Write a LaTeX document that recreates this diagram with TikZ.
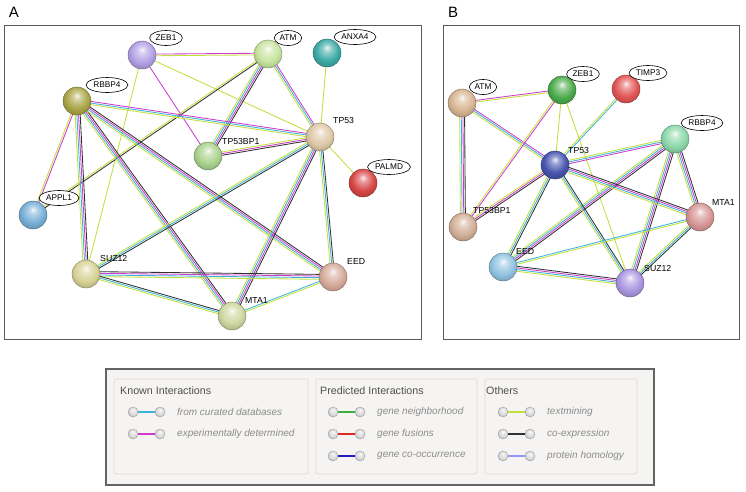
\documentclass[tikz,border=0pt]{standalone}
\usepackage{fontspec}
\setmainfont{Liberation Sans}
\usetikzlibrary{calc,shapes.geometric}
\pgfdeclarelayer{bg}
\pgfsetlayers{bg,main}
\makeatletter
\pgfdeclareradialshading[tikz@ball]{strball}{\pgfqpoint{0bp}{10bp}}{%
 color(0bp)=(tikz@ball!10!white);
 color(7bp)=(tikz@ball!55!white);
 color(20bp)=(tikz@ball);
 color(33bp)=(tikz@ball!78!black);
 color(50bp)=(tikz@ball!55!black)}
\makeatother
% edge colours
\definecolor{colTM}{RGB}{196,222,60}
\definecolor{colDB}{RGB}{60,180,215}
\definecolor{colEX}{RGB}{205,60,205}
\definecolor{colCE}{RGB}{50,50,50}
\definecolor{colNB}{RGB}{60,175,60}
\definecolor{colFU}{RGB}{225,40,40}
\definecolor{colCO}{RGB}{30,30,200}
\definecolor{colHO}{RGB}{150,150,250}
% sphere colours panel A
\definecolor{aZEB1c}{RGB}{178,160,228}
\definecolor{aATMc}{RGB}{200,228,160}
\definecolor{aANXA4c}{RGB}{60,170,165}
\definecolor{aRBBP4c}{RGB}{170,165,70}
\definecolor{aTP53c}{RGB}{222,200,168}
\definecolor{aTP53BP1c}{RGB}{170,210,140}
\definecolor{aPALMDc}{RGB}{215,70,70}
\definecolor{aAPPL1c}{RGB}{120,175,215}
\definecolor{aSUZ12c}{RGB}{215,210,150}
\definecolor{aEEDc}{RGB}{215,170,155}
\definecolor{aMTA1c}{RGB}{205,215,160}
% sphere colours panel B
\definecolor{bATMc}{RGB}{215,180,145}
\definecolor{bZEB1c}{RGB}{75,170,75}
\definecolor{bTIMP3c}{RGB}{225,85,85}
\definecolor{bRBBP4c}{RGB}{140,215,170}
\definecolor{bTP53c}{RGB}{70,85,175}
\definecolor{bTP53BP1c}{RGB}{210,175,150}
\definecolor{bMTA1c}{RGB}{215,150,150}
\definecolor{bEEDc}{RGB}{145,195,225}
\definecolor{bSUZ12c}{RGB}{170,150,225}
% legend colours
\definecolor{legbg}{RGB}{245,244,242}
\definecolor{legfr}{RGB}{100,100,100}
\definecolor{legbd}{RGB}{218,217,214}
\definecolor{legtit}{RGB}{80,80,80}
\definecolor{legtxt}{RGB}{140,140,140}
\definecolor{framec}{RGB}{90,90,90}

\newcommand\stredge[3]{%
  \gdef\nlines{0}%
  \foreach \ecol in {#3}{\pgfmathtruncatemacro\tmpn{\nlines+1}\global\let\nlines\tmpn}%
  \foreach \ecol [count=\i] in {#3}{%
    \pgfmathsetmacro\off{(\i-(\nlines+1)/2)*1.65}%
    \draw[edgeline,color=\ecol] ($(#1)!\off pt!90:(#2)$) -- ($(#2)!\off pt!-90:(#1)$);
  }%
}
\newcommand\legrow[6]{%
  \node[mini] (#1l) at (#2,#3) {};
  \node[mini] (#1r) at ({#2+27},#3) {};
  \draw[line width=2pt, color=#4] (#1l) -- (#1r);
  \node[legtext] (#1t) at (#6,#3) {#5};
}

\tikzset{
 sph/.style={circle, minimum size=28pt, inner sep=0pt, ball color=#1, shading=strball, draw=#1!60!black, line width=0.4pt},
 tag/.style={ellipse, draw=black, line width=0.6pt, fill=white, inner xsep=1.2pt, inner ysep=0.3pt, minimum height=15pt, font=\fontsize{8.3}{9}\selectfont},
 lbl/.style={anchor=west, inner sep=0pt, font=\fontsize{8.7}{10}\selectfont},
 edgeline/.style={line width=0.85pt},
 framebox/.style={draw=framec, line width=1pt},
 mini/.style={circle, minimum size=10pt, inner sep=0pt, ball color=gray!30, shading=strball, draw=gray!75, line width=0.4pt},
 legtext/.style={anchor=west, inner sep=0pt, font=\fontsize{10}{12}\selectfont\itshape, text=legtxt},
 legtitle/.style={anchor=west, inner sep=0pt, font=\fontsize{10.7}{12}\selectfont, text=legtit},
 legbox/.style={rounded corners=2pt, fill=legbg, draw=legbd, line width=0.6pt},
}

\begin{document}
\begin{tikzpicture}[x=1pt,y=-1pt]
\useasboundingbox (0,0) rectangle (746,491);

% panel letters and frames
\node[font=\fontsize{15}{17}\selectfont] (letA) at (14,12) {A};
\node[font=\fontsize{15}{17}\selectfont] (letB) at (453,12) {B};
\draw[framebox] (4,25) rectangle (421,339);
\draw[framebox] (443,25) rectangle (739,339);

% ---------------- Panel A nodes ----------------
\node[sph=aZEB1c]    (aZEB1)    at (142,55)  {};
\node[sph=aATMc]     (aATM)     at (268,54)  {};
\node[sph=aANXA4c]   (aANXA4)   at (327,53)  {};
\node[sph=aRBBP4c]   (aRBBP4)   at (77,101)  {};
\node[sph=aTP53c]    (aTP53)    at (320,137) {};
\node[sph=aTP53BP1c] (aTP53BP1) at (208,156) {};
\node[sph=aPALMDc]   (aPALMD)   at (363,183) {};
\node[sph=aAPPL1c]   (aAPPL1)   at (33,215)  {};
\node[sph=aSUZ12c]   (aSUZ12)   at (86,274)  {};
\node[sph=aEEDc]     (aEED)     at (333,277) {};
\node[sph=aMTA1c]    (aMTA1)    at (232,316) {};

\node[tag] (aZEB1t)  at (166,38)  {ZEB1};
\node[tag] (aATMt)   at (288,38)  {ATM};
\node[tag] (aANXA4t) at (355,37)  {ANXA4};
\node[tag] (aRBBP4t) at (107,85)  {RBBP4};
\node[tag] (aPALMDt) at (389,167) {PALMD};
\node[tag] (aAPPL1t) at (59,198)  {APPL1};
\node[lbl] (aTP53t)    at (333,120) {TP53};
\node[lbl] (aTP53BP1t) at (222,141) {TP53BP1};
\node[lbl] (aSUZ12t)   at (100,258) {SUZ12};
\node[lbl] (aEEDt)     at (347,261) {EED};
\node[lbl] (aMTA1t)    at (245,300) {MTA1};

% ---------------- Panel B nodes ----------------
\node[sph=bATMc]     (bATM)     at (462,103) {};
\node[sph=bZEB1c]    (bZEB1)    at (562,90)  {};
\node[sph=bTIMP3c]   (bTIMP3)   at (626,89)  {};
\node[sph=bRBBP4c]   (bRBBP4)   at (675,139) {};
\node[sph=bTP53c]    (bTP53)    at (555,165) {};
\node[sph=bTP53BP1c] (bTP53BP1) at (463,227) {};
\node[sph=bMTA1c]    (bMTA1)    at (700,217) {};
\node[sph=bEEDc]     (bEED)     at (503,267) {};
\node[sph=bSUZ12c]   (bSUZ12)   at (630,283) {};

\node[tag] (bATMt)   at (483,87)  {ATM};
\node[tag] (bZEB1t)  at (583,74)  {ZEB1};
\node[tag] (bTIMP3t) at (648,73)  {TIMP3};
\node[tag] (bRBBP4t) at (702,123) {RBBP4};
\node[lbl] (bTP53t)    at (568,150) {TP53};
\node[lbl] (bTP53BP1t) at (473,210) {TP53BP1};
\node[lbl] (bMTA1t)    at (712,202) {MTA1};
\node[lbl] (bEEDt)     at (516,251) {EED};
\node[lbl] (bSUZ12t)   at (644,268) {SUZ12};

% ---------------- edges (behind spheres) ----------------
\begin{pgfonlayer}{bg}
% panel A
\stredge{aZEB1}{aATM}{colTM,colEX}
\stredge{aZEB1}{aTP53}{colTM}
\stredge{aZEB1}{aTP53BP1}{colEX}
\stredge{aZEB1}{aSUZ12}{colTM}
\stredge{aATM}{aTP53}{colTM,colDB,colEX}
\stredge{aATM}{aTP53BP1}{colTM,colDB,colEX,colCE}
\stredge{aATM}{aAPPL1}{colTM,colCE}
\stredge{aRBBP4}{aTP53}{colTM,colDB,colEX}
\stredge{aRBBP4}{aAPPL1}{colTM,colEX}
\stredge{aRBBP4}{aSUZ12}{colTM,colDB,colEX,colCE}
\stredge{aRBBP4}{aMTA1}{colTM,colDB,colEX,colCE}
\stredge{aRBBP4}{aEED}{colTM,colDB,colEX,colCE}
\stredge{aTP53}{aTP53BP1}{colTM,colEX,colCE}
\stredge{aTP53}{aANXA4}{colTM}
\stredge{aTP53}{aPALMD}{colTM}
\stredge{aTP53}{aSUZ12}{colTM,colDB,colCE}
\stredge{aTP53}{aMTA1}{colTM,colDB,colEX,colCE}
\stredge{aTP53}{aEED}{colTM,colDB,colCE}
\stredge{aSUZ12}{aEED}{colTM,colDB,colEX,colCE}
\stredge{aSUZ12}{aMTA1}{colTM,colDB,colCE}
\stredge{aMTA1}{aEED}{colTM,colDB}
% panel B
\stredge{bATM}{bZEB1}{colTM,colEX}
\stredge{bATM}{bTP53}{colTM,colDB,colEX}
\stredge{bATM}{bTP53BP1}{colTM,colDB,colEX,colCE}
\stredge{bZEB1}{bTP53}{colTM}
\stredge{bZEB1}{bTP53BP1}{colTM,colEX}
\stredge{bZEB1}{bSUZ12}{colTM}
\stredge{bTIMP3}{bTP53}{colTM,colDB}
\stredge{bRBBP4}{bTP53}{colTM,colDB,colEX}
\stredge{bRBBP4}{bEED}{colTM,colDB,colEX,colCE}
\stredge{bRBBP4}{bSUZ12}{colTM,colDB,colEX,colCE}
\stredge{bRBBP4}{bMTA1}{colTM,colDB,colEX,colCE}
\stredge{bTP53}{bTP53BP1}{colTM,colEX,colCE}
\stredge{bTP53}{bMTA1}{colTM,colDB,colEX,colCE}
\stredge{bTP53}{bEED}{colTM,colDB,colCE}
\stredge{bTP53}{bSUZ12}{colTM,colDB,colCE}
\stredge{bEED}{bMTA1}{colTM,colDB}
\stredge{bEED}{bSUZ12}{colTM,colDB,colEX,colCE}
\stredge{bMTA1}{bSUZ12}{colTM,colDB,colCE}
\end{pgfonlayer}

% ---------------- legend ----------------
\draw[fill=legbg, draw=legfr, line width=1.2pt] (106,369) rectangle (654,485);
\draw[legbox] (114,379) rectangle (308,474);
\draw[legbox] (316,379) rectangle (477,474);
\draw[legbox] (485,379) rectangle (637,474);

\node[legtitle] (kTitle) at (120,391) {Known Interactions};
\node[legtitle] (pTitle) at (320,391) {Predicted Interactions};
\node[legtitle] (oTitle) at (486,391) {Others};

\legrow{k1}{133}{412}{colDB}{from curated databases}{177}
\legrow{k2}{133}{434}{colEX}{experimentally determined}{177}

\legrow{p1}{333}{412}{colNB}{gene neighborhood}{377}
\legrow{p2}{333}{434}{colFU}{gene fusions}{377}
\legrow{p3}{333}{456}{colCO}{gene co-occurrence}{377}

\legrow{o1}{503}{412}{colTM}{textmining}{547}
\legrow{o2}{503}{434}{colCE}{co-expression}{547}
\legrow{o3}{503}{456}{colHO}{protein homology}{547}
\end{tikzpicture}
\end{document}
